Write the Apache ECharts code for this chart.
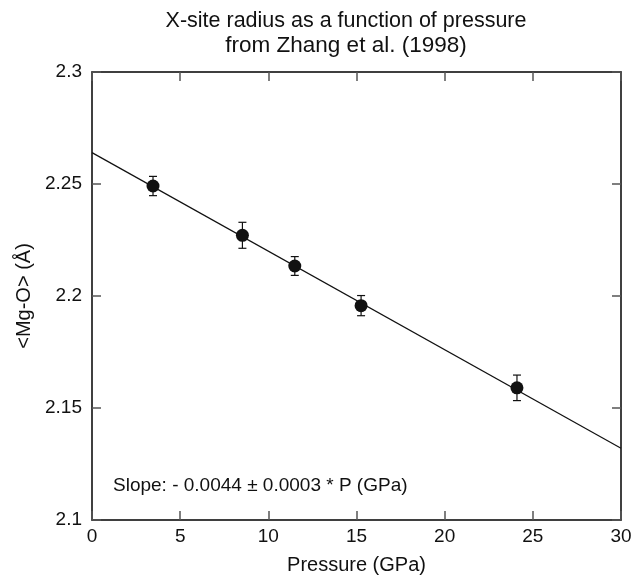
<!DOCTYPE html>
<html>
<head>
<meta charset="utf-8">
<script src="https://cdn.jsdelivr.net/npm/echarts@6/dist/echarts.min.js"></script>
<style>html,body{margin:0;padding:0;background:#fff;overflow:hidden}#c{width:634px;height:575px}</style>
</head>
<body>
<div id="c"></div>
<script>
const pressure = [3.46, 8.53, 11.5, 15.26, 24.1];
const radius = [2.2491, 2.2271, 2.2134, 2.1957, 2.159];
const radiusErr = [0.0043, 0.0058, 0.0042, 0.0045, 0.0057];
const fitX = [0, 30];
const fitY = [2.2640, 2.1320];
const xTicks = [0, 5, 10, 15, 20, 25, 30];
const yTicks = ['2.1', '2.15', '2.2', '2.25', '2.3'];
const titleLines = ['X-site radius as a function of pressure', 'from Zhang et al. (1998)'];
const slopeText = 'Slope: - 0.0044 ± 0.0003 * P (GPa)';

const FONT = 'Liberation Sans, Arial, Helvetica, sans-serif';
const chart = echarts.init(document.getElementById('c'), null, {width: 634, height: 575});
const pts = pressure.map((p, i) => [p, radius[i]]);
const errData = pressure.map((p, i) => [p, radius[i] - radiusErr[i], radius[i] + radiusErr[i]]);
const axisLine = {show: true, onZero: false, lineStyle: {color: '#000', width: 1.5}};
const tickStyle = {show: true, inside: true, length: 9, lineStyle: {color: '#555', width: 1.5}};
chart.setOption({
  animation: false,
  backgroundColor: '#fff',
  title: [{
    text: titleLines[0],
    left: 346, top: 10, textAlign: 'center', padding: 0,
    textStyle: {fontFamily: FONT, fontSize: 21.5, fontWeight: 'normal', color: '#111'}
  }, {
    text: titleLines[1],
    left: 346, top: 34, textAlign: 'center', padding: 0,
    textStyle: {fontFamily: FONT, fontSize: 22.5, fontWeight: 'normal', color: '#111'}
  }],
  grid: {left: 92, top: 72, width: 529, height: 448, containLabel: false, outerBoundsMode: 'none'},
  xAxis: [{
    type: 'value', min: 0, max: 30, interval: 5,
    name: 'Pressure (GPa)', nameLocation: 'middle', nameGap: 35,
    nameTextStyle: {fontFamily: FONT, fontSize: 20, color: '#111'},
    axisLine: axisLine, axisTick: tickStyle, splitLine: {show: false},
    axisLabel: {fontFamily: FONT, fontSize: 19, color: '#111', margin: 7}
  }, {
    type: 'value', min: 0, max: 30, interval: 5, position: 'top',
    axisLine: axisLine, axisTick: tickStyle, splitLine: {show: false}, axisLabel: {show: false}
  }],
  yAxis: [{
    type: 'value', min: 2.1, max: 2.3, interval: 0.05,
    name: '<Mg-O> (Å)', nameLocation: 'middle', nameGap: 47,
    nameTextStyle: {fontFamily: FONT, fontSize: 20, color: '#111'},
    axisLine: axisLine, axisTick: tickStyle, splitLine: {show: false},
    axisLabel: {fontFamily: FONT, fontSize: 19, color: '#111', margin: 10,
      formatter: v => { const s = yTicks.find(t => Math.abs(parseFloat(t) - v) < 1e-6); return s || ''; }}
  }, {
    type: 'value', min: 2.1, max: 2.3, interval: 0.05, position: 'right',
    axisLine: axisLine, axisTick: tickStyle, splitLine: {show: false}, axisLabel: {show: false}
  }],
  graphic: [{
    type: 'text', left: 113, top: 476,
    style: {text: slopeText, font: '19px ' + FONT, fill: '#111'}
  }],
  series: [{
    type: 'line', data: fitX.map((x, i) => [x, fitY[i]]), symbol: 'none',
    lineStyle: {color: '#111', width: 1.2}, z: 2
  }, {
    type: 'custom', z: 3,
    renderItem: (params, api) => {
      const x = api.value(0);
      const lo = api.coord([x, api.value(1)]);
      const hi = api.coord([x, api.value(2)]);
      const w = 4;
      const st = {stroke: '#111', lineWidth: 1.2};
      return {type: 'group', children: [
        {type: 'line', shape: {x1: lo[0], y1: lo[1], x2: hi[0], y2: hi[1]}, style: st},
        {type: 'line', shape: {x1: lo[0]-w, y1: lo[1], x2: lo[0]+w, y2: lo[1]}, style: st},
        {type: 'line', shape: {x1: hi[0]-w, y1: hi[1], x2: hi[0]+w, y2: hi[1]}, style: st}
      ]};
    },
    data: errData
  }, {
    type: 'scatter', data: pts, symbol: 'circle', symbolSize: 13,
    itemStyle: {color: '#111', opacity: 1}, z: 4
  }]
});
</script>
</body>
</html>
